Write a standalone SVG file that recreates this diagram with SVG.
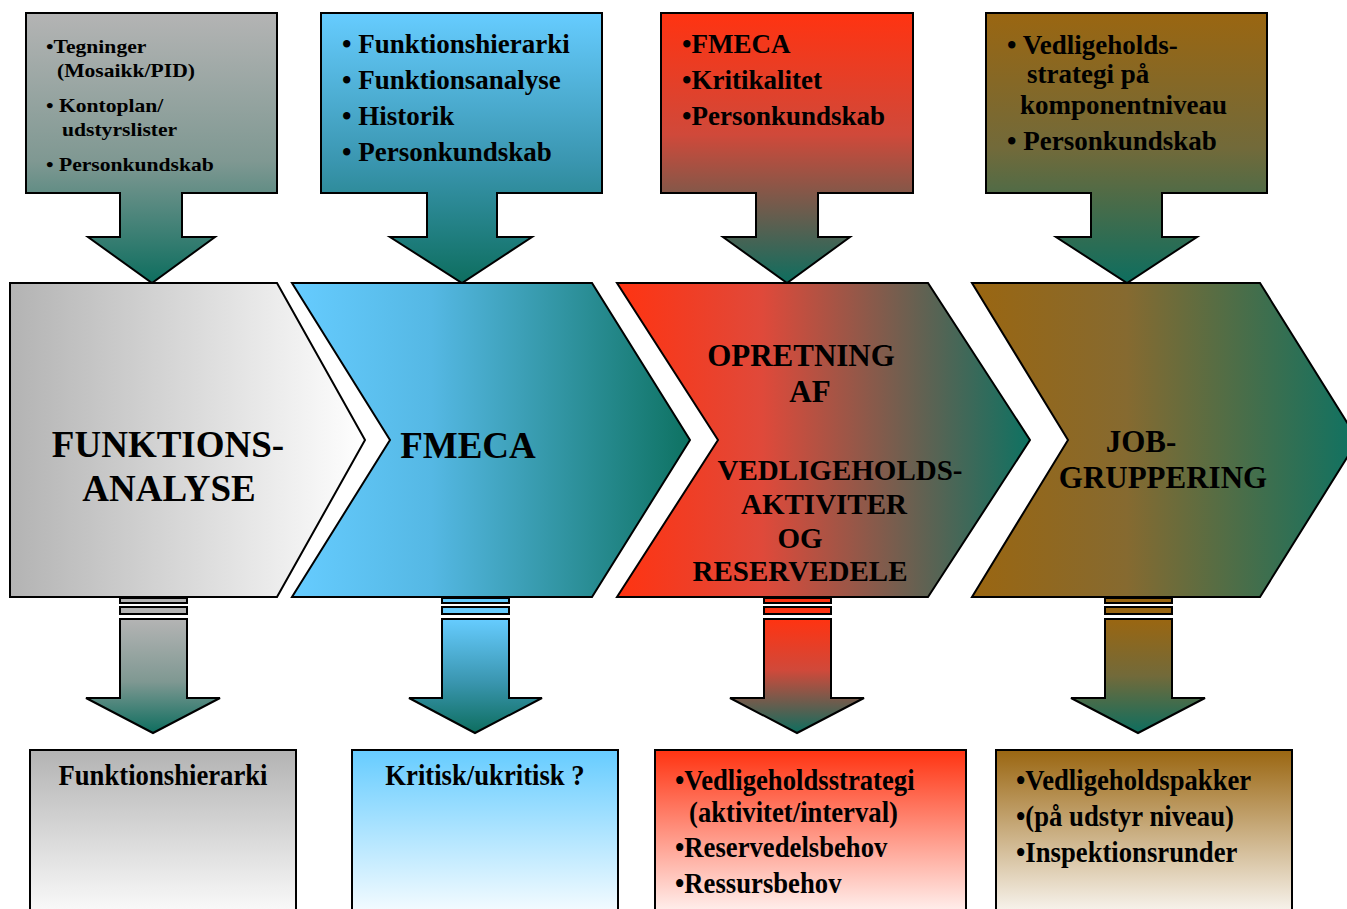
<svg xmlns="http://www.w3.org/2000/svg" width="1347" height="909" viewBox="0 0 1347 909">
  <defs>
    <!-- vertical fades: phase colour to teal (callouts, down arrows) -->
    <linearGradient id="vGray" x1="0" y1="0" x2="0" y2="1">
      <stop offset="0" stop-color="#b4b4b4"/><stop offset="0.55" stop-color="#7f9892"/><stop offset="1" stop-color="#0e6e5f"/>
    </linearGradient>
    <linearGradient id="vBlue" x1="0" y1="0" x2="0" y2="1">
      <stop offset="0" stop-color="#66ccff"/><stop offset="0.55" stop-color="#3a96b0"/><stop offset="1" stop-color="#0e6e5f"/>
    </linearGradient>
    <linearGradient id="vRed" x1="0" y1="0" x2="0" y2="1">
      <stop offset="0" stop-color="#ff3311"/><stop offset="0.45" stop-color="#d0493a"/><stop offset="1" stop-color="#0e6e5f"/>
    </linearGradient>
    <linearGradient id="vBrown" x1="0" y1="0" x2="0" y2="1">
      <stop offset="0" stop-color="#9a6611"/><stop offset="0.5" stop-color="#726a3a"/><stop offset="1" stop-color="#0e6e5f"/>
    </linearGradient>
    <!-- horizontal fades for the process chevrons -->
    <linearGradient id="hGray" x1="0" y1="0" x2="1" y2="0">
      <stop offset="0" stop-color="#b3b3b3"/><stop offset="1" stop-color="#ffffff"/>
    </linearGradient>
    <linearGradient id="hBlue" x1="0" y1="0" x2="1" y2="0">
      <stop offset="0" stop-color="#66ccff"/><stop offset="0.35" stop-color="#55b8e4"/><stop offset="1" stop-color="#0e7262"/>
    </linearGradient>
    <linearGradient id="hRed" x1="0" y1="0" x2="1" y2="0">
      <stop offset="0" stop-color="#ff3311"/><stop offset="0.35" stop-color="#e0493a"/><stop offset="1" stop-color="#0e7262"/>
    </linearGradient>
    <linearGradient id="hBrown" x1="0" y1="0" x2="1" y2="0">
      <stop offset="0" stop-color="#9a6611"/><stop offset="0.4" stop-color="#866a30"/><stop offset="1" stop-color="#0e7262"/>
    </linearGradient>
    <!-- result boxes fade to white -->
    <linearGradient id="wGray" x1="0" y1="0" x2="0" y2="1">
      <stop offset="0" stop-color="#b3b3b3"/><stop offset="1" stop-color="#ffffff"/>
    </linearGradient>
    <linearGradient id="wBlue" x1="0" y1="0" x2="0" y2="1">
      <stop offset="0" stop-color="#66ccff"/><stop offset="1" stop-color="#ffffff"/>
    </linearGradient>
    <linearGradient id="wRed" x1="0" y1="0" x2="0" y2="1">
      <stop offset="0" stop-color="#ff3311"/><stop offset="1" stop-color="#ffffff"/>
    </linearGradient>
    <linearGradient id="wBrown" x1="0" y1="0" x2="0" y2="1">
      <stop offset="0" stop-color="#9a6611"/><stop offset="1" stop-color="#ffffff"/>
    </linearGradient>
    <style>
      .shape { stroke: #000; stroke-width: 2; stroke-linejoin: miter; }
      text { font-family: "Liberation Serif", "Times New Roman", serif; font-weight: bold; fill: #000; }
      .s1 { font-size: 18px; }
      .s2 { font-size: 27px; }
      .big { font-size: 37px; text-anchor: middle; }
      .mid { font-size: 31px; text-anchor: middle; }
      .lo { font-size: 29px; text-anchor: middle; }
      .res { font-size: 26.7px; }
      .c { text-anchor: middle; }
    </style>
  </defs>

  <rect width="1347" height="909" fill="#ffffff"/>

  <!-- input callouts -->
  <g id="input-drawings">
    <path class="shape" fill="url(#vGray)" d="M26,13 H277 V193 H182 V237 H215 L152,283 L88,237 H120 V193 H26 Z"/>
    <text class="s1" transform="translate(46,53) scale(1.2,1)">•Tegninger</text>
    <text class="s1" transform="translate(57,77) scale(1.2,1)">(Mosaikk/PID)</text>
    <text class="s1" transform="translate(46,112) scale(1.2,1)">• Kontoplan/</text>
    <text class="s1" transform="translate(62,136) scale(1.2,1)">udstyrslister</text>
    <text class="s1" transform="translate(46,171) scale(1.2,1)">• Personkundskab</text>
  </g>
  <g id="input-functions">
    <path class="shape" fill="url(#vBlue)" d="M321,13 H602 V193 H497 V237 H532 L462,283 L390,237 H427 V193 H321 Z"/>
    <text class="s2" x="342" y="53">• Funktionshierarki</text>
    <text class="s2" x="342" y="89">• Funktionsanalyse</text>
    <text class="s2" x="342" y="125">• Historik</text>
    <text class="s2" x="342" y="161">• Personkundskab</text>
  </g>
  <g id="input-criticality">
    <path class="shape" fill="url(#vRed)" d="M661,13 H913 V193 H818 V237 H850 L787,283 L723,237 H756 V193 H661 Z"/>
    <text class="s2" x="682" y="53">•FMECA</text>
    <text class="s2" x="682" y="89">•Kritikalitet</text>
    <text class="s2" x="682" y="125">•Personkundskab</text>
  </g>
  <g id="input-strategy">
    <path class="shape" fill="url(#vBrown)" d="M986,13 H1267 V193 H1162 V237 H1197 L1127,283 L1056,237 H1091 V193 H986 Z"/>
    <text class="s2" x="1007" y="54">• Vedligeholds-</text>
    <text class="s2" x="1027" y="83">strategi på</text>
    <text class="s2" x="1020" y="114">komponentniveau</text>
    <text class="s2" x="1007" y="150">• Personkundskab</text>
  </g>

  <!-- process chevrons -->
  <g id="step-funktionsanalyse">
    <path class="shape" fill="url(#hGray)" d="M10,283 H277 L365,440 L277,597 H10 Z"/>
    <text class="big" x="168" y="457">FUNKTIONS-</text>
    <text class="big" x="169" y="501">ANALYSE</text>
  </g>
  <g id="step-fmeca">
    <path class="shape" fill="url(#hBlue)" d="M292,283 H592 L690,440 L592,597 H292 L390,440 Z"/>
    <text class="big" x="468" y="458">FMECA</text>
  </g>
  <g id="step-opretning">
    <path class="shape" fill="url(#hRed)" d="M617,283 H928 L1030,440 L928,597 H617 L718,440 Z"/>
    <text class="mid" x="801" y="366">OPRETNING</text>
    <text class="mid" x="810" y="402">AF</text>
    <text class="lo" x="840" y="480">VEDLIGEHOLDS-</text>
    <text class="lo" x="824" y="514">AKTIVITER</text>
    <text class="lo" x="800" y="548">OG</text>
    <text class="lo" x="800" y="581">RESERVEDELE</text>
  </g>
  <g id="step-jobgruppering">
    <path class="shape" fill="url(#hBrown)" d="M972,283 H1260 L1358,440 L1260,597 H972 L1068,440 Z"/>
    <text class="mid" x="1141" y="452">JOB-</text>
    <text class="mid" x="1163" y="488">GRUPPERING</text>
  </g>

  <!-- output arrows from each step -->
  <g id="connectors">
    <g>
      <rect class="shape" x="120" y="598" width="67" height="5" fill="#b3b3b3"/>
      <rect class="shape" x="120" y="607" width="67" height="7" fill="#b3b3b3"/>
      <path class="shape" fill="url(#vGray)" d="M120,619 H187 V698 H220 L153,733 L86,698 H120 Z"/>
    </g>
    <g>
      <rect class="shape" x="442" y="598" width="67" height="5" fill="#66ccff"/>
      <rect class="shape" x="442" y="607" width="67" height="7" fill="#66ccff"/>
      <path class="shape" fill="url(#vBlue)" d="M442,619 H509 V698 H542 L475,733 L409,698 H442 Z"/>
    </g>
    <g>
      <rect class="shape" x="764" y="598" width="67" height="5" fill="#ff3311"/>
      <rect class="shape" x="764" y="607" width="67" height="7" fill="#ff3311"/>
      <path class="shape" fill="url(#vRed)" d="M764,619 H831 V698 H864 L797,733 L730,698 H764 Z"/>
    </g>
    <g>
      <rect class="shape" x="1105" y="598" width="67" height="5" fill="#9a6611"/>
      <rect class="shape" x="1105" y="607" width="67" height="7" fill="#9a6611"/>
      <path class="shape" fill="url(#vBrown)" d="M1105,619 H1172 V698 H1205 L1138,733 L1071,698 H1105 Z"/>
    </g>
  </g>

  <!-- results -->
  <g id="result-hierarchy">
    <rect class="shape" x="30" y="750" width="266" height="175" fill="url(#wGray)"/>
    <text class="res c" transform="translate(163,785) scale(1,1.12)">Funktionshierarki</text>
  </g>
  <g id="result-critical">
    <rect class="shape" x="352" y="750" width="266" height="175" fill="url(#wBlue)"/>
    <text class="res c" transform="translate(485,785) scale(1,1.12)">Kritisk/ukritisk ?</text>
  </g>
  <g id="result-activities">
    <rect class="shape" x="655" y="750" width="311" height="175" fill="url(#wRed)"/>
    <text class="res" transform="translate(675,790) scale(1,1.12)">•Vedligeholdsstrategi</text>
    <text class="res" transform="translate(689,822) scale(1,1.12)">(aktivitet/interval)</text>
    <text class="res" transform="translate(675,857) scale(1,1.12)">•Reservedelsbehov</text>
    <text class="res" transform="translate(675,893) scale(1,1.12)">•Ressursbehov</text>
  </g>
  <g id="result-packages">
    <rect class="shape" x="996" y="750" width="296" height="175" fill="url(#wBrown)"/>
    <text class="res" transform="translate(1016,790) scale(1,1.12)">•Vedligeholdspakker</text>
    <text class="res" transform="translate(1016,826) scale(1,1.12)">•(på udstyr niveau)</text>
    <text class="res" transform="translate(1016,862) scale(1,1.12)">•Inspektionsrunder</text>
  </g>
</svg>
